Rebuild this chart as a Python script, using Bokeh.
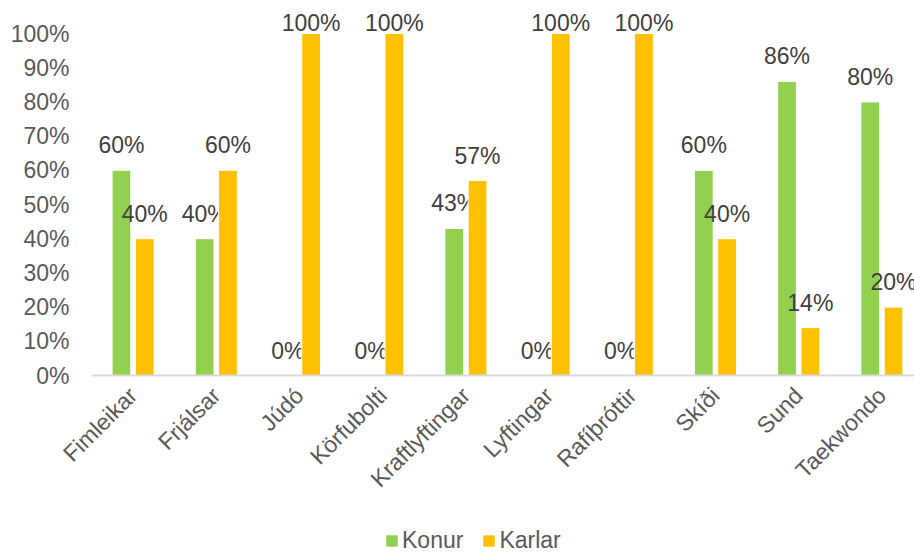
from bokeh.plotting import figure
from bokeh.layouts import column
from bokeh.models import Range1d, FixedTicker, ColumnDataSource, Legend, LegendItem
from bokeh.core.properties import value
from bokeh.embed import file_html
from bokeh.resources import INLINE

categories = ["Fimleikar", "Frjálsar", "Júdó", "Körfubolti", "Kraftlyftingar",
              "Lyftingar", "Rafíþróttir", "Skíði", "Sund", "Taekwondo"]
konur = [60, 40, 0, 0, 43, 0, 0, 60, 86, 80]
karlar = [40, 60, 100, 100, 57, 100, 100, 40, 14, 20]
y_ticks = [0, 10, 20, 30, 40, 50, 60, 70, 80, 90, 100]
y_tick_labels = ["0%", "10%", "20%", "30%", "40%", "50%", "60%", "70%", "80%", "90%", "100%"]
series_names = ["Konur", "Karlar"]
series_colors = ["#92D050", "#FFC000"]

FONT = "Liberation Sans"
FS = "23px"

p = figure(width=914, height=518, x_range=Range1d(0, 9.892), y_range=Range1d(0, 109.65),
           output_backend="svg", toolbar_location=None,
           min_border_left=91, min_border_right=0, min_border_top=0, min_border_bottom=143,
           outline_line_color=None, background_fill_color="white", border_fill_color="white")
p.grid.visible = False

centers = [i + 0.5 for i in range(len(categories))]
offsets = [-0.14, 0.14]
for vals, off, col in zip([konur, karlar], offsets, series_colors):
    # labels sit above the bar, pushed down to stay inside the plot area when the bar is full height
    yoff = [-25 if v < 95 else -11 for v in vals]
    src = ColumnDataSource(dict(x=[c + off for c in centers], top=vals,
                                lab=[f"{v}%" for v in vals], yoff=yoff))
    p.vbar(x="x", top="top", width=0.225, source=src, fill_color=col,
           line_color="white", line_width=1)
    p.text(x="x", y="top", text="lab", source=src, text_align="center",
           text_baseline="middle", y_offset="yoff", text_font=value(FONT),
           text_font_size=FS, text_color="#404040")

# y axis
ya = p.yaxis[0]
ya.ticker = FixedTicker(ticks=y_ticks)
ya.major_label_overrides = {t: l for t, l in zip(y_ticks, y_tick_labels)}
ya.axis_line_color = None
ya.major_tick_line_color = None
ya.minor_tick_line_color = None
ya.major_label_standoff = 16
ya.major_label_text_font = FONT
ya.major_label_text_font_size = FS
ya.major_label_text_color = "#595959"

# x axis
xa = p.xaxis[0]
xa.ticker = FixedTicker(ticks=centers)
xa.major_label_overrides = {c: n for c, n in zip(centers, categories)}
xa.axis_line_color = "#D9D9D9"
xa.axis_line_width = 2
xa.major_tick_line_color = None
xa.minor_tick_line_color = None
xa.major_label_orientation = 0.785398
xa.major_label_standoff = 10
xa.major_label_text_font = FONT
xa.major_label_text_font_size = FS
xa.major_label_text_color = "#595959"

# legend strip below the chart (its bars fall outside this strip's view; only the legend shows)
lf = figure(width=914, height=35, x_range=Range1d(0, 1), y_range=Range1d(1000, 1001),
            output_backend="svg", toolbar_location=None, x_axis_type=None, y_axis_type=None,
            min_border=0, outline_line_color=None)
lf.grid.visible = False
items = []
for name, vals, off, col in zip(series_names, [konur, karlar], offsets, series_colors):
    r = lf.vbar(x=[c + off for c in centers], top=vals, width=0.225,
                fill_color=col, line_color=col)
    items.append(LegendItem(label=name, renderers=[r]))
legend = Legend(items=items, orientation="horizontal", location=(294, -1),
                border_line_color=None, background_fill_alpha=0,
                label_text_font=FONT, label_text_font_size=FS, label_text_color="#595959",
                glyph_width=13, glyph_height=13, label_height=20,
                spacing=19, label_standoff=4, padding=0, margin=0)
lf.add_layout(legend, "center")

open("out.html", "w").write(file_html(column(p, lf, spacing=0), INLINE))
